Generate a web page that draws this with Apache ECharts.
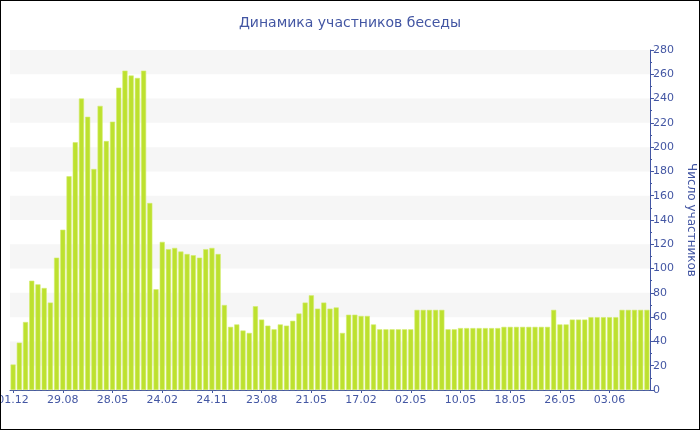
<!DOCTYPE html>
<html>
<head>
<meta charset="utf-8">
<script src="https://cdn.jsdelivr.net/npm/echarts@6/dist/echarts.min.js"></script>
<style>
html,body{margin:0;padding:0;background:#fff;}
#wrap{position:relative;width:700px;height:430px;}
#chart{width:700px;height:430px;}
#frame{position:absolute;left:0;top:0;width:700px;height:430px;box-sizing:border-box;border:1px solid #000;pointer-events:none;}
</style>
</head>
<body>
<div id="wrap"><div id="chart"></div><div id="frame"></div></div>
<script>
const titleText = 'Динамика участников беседы';
const yAxisName = 'Число участников';
const tickLabels = ['01.12','29.08','28.05','24.02','24.11','23.08','21.05','17.02','02.05','10.05','18.05','26.05','03.06'];
const values = [21,39,56,90,87,84,72,109,132,176,
  204,240,225,182,234,205,221,249,263,259,
  257,263,154,83,122,116,117,114,112,111,
  109,116,117,112,70,52,54,49,47,69,
  58,53,50,54,53,57,63,72,78,67,
  72,67,68,47,62,62,61,61,54,50,
  50,50,50,50,50,66,66,66,66,66,
  50,50,51,51,51,51,51,51,51,52,
  52,52,52,52,52,52,52,66,54,54,
  58,58,58,60,60,60,60,60,66,66,
  66,66,66];
const labelStep = 8;
const categories = values.map((v, i) => (i % labelStep === 0 ? tickLabels[i / labelStep] : '#' + i));

const blue = '#4356a3';
const font = 'DejaVu Sans';
const chart = echarts.init(document.getElementById('chart'), null, {renderer: 'canvas'});
chart.setOption({
  animation: false,
  backgroundColor: '#fff',
  title: {
    text: titleText, left: 'center', top: 11,
    textStyle: {color: blue, fontFamily: font, fontSize: 14, fontWeight: 'normal'}
  },
  grid: {left: 10, right: 50, top: 50, bottom: 40, containLabel: false, outerBoundsMode: 'none'},
  xAxis: {
    type: 'category',
    data: categories,
    boundaryGap: true,
    axisLine: {lineStyle: {color: blue, width: 1}},
    axisTick: {show: true, alignWithLabel: true, interval: labelStep - 1, length: 3, lineStyle: {color: blue}},
    axisLabel: {
      interval: labelStep - 1, color: blue, fontFamily: font, fontSize: 11, margin: 5,
      formatter: (v) => (v.charAt(0) === '#' ? '' : v)
    },
    splitLine: {show: false}
  },
  yAxis: {
    type: 'value',
    position: 'right',
    min: 0, max: 280, interval: 20,
    name: yAxisName,
    nameLocation: 'middle',
    nameRotate: -90,
    nameGap: 33,
    nameTextStyle: {color: blue, fontFamily: font, fontSize: 12},
    axisLine: {show: true, lineStyle: {color: blue, width: 1}},
    axisTick: {show: true, length: 4, lineStyle: {color: blue}},
    minorTick: {show: true, splitNumber: 2, length: 2, lineStyle: {color: blue}},
    axisLabel: {color: blue, fontFamily: font, fontSize: 11, margin: 3},
    splitLine: {show: false},
    splitArea: {show: true, areaStyle: {color: ['rgba(255,255,255,0)', '#f6f6f6']}}
  },
  series: [{
    type: 'bar',
    data: values,
    barCategoryGap: '18%',
    itemStyle: {color: '#bde12f', borderColor: '#d3ec6e', borderWidth: 0.6}
  }]
});
</script>
</body>
</html>
